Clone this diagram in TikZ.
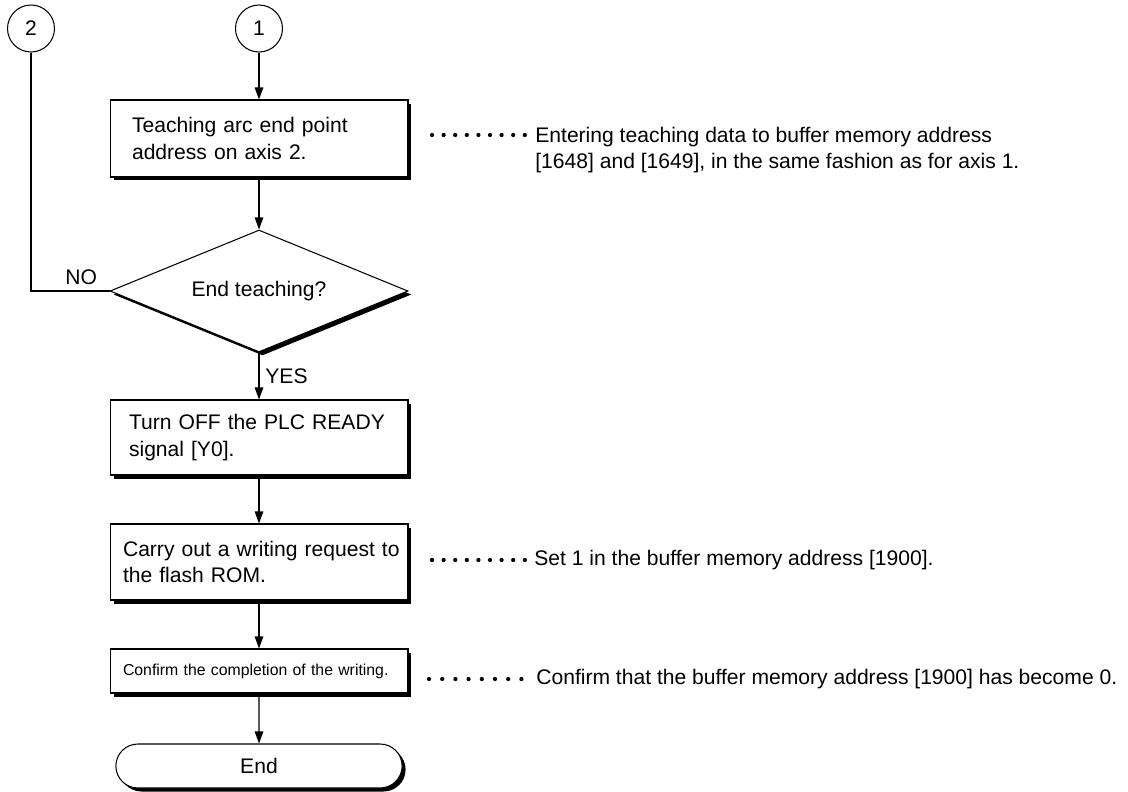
\documentclass[tikz,border=0pt]{standalone}
\usepackage{fontspec}
\setmainfont{Liberation Sans}
\usepackage{tikz}
\usetikzlibrary{
arrows.meta,
positioning,
shapes.geometric,
shapes.misc,
shadows
}
\newcommand{\flowfont}{\fontsize{12}{15}\selectfont}
\newcommand{\smallflowfont}{\fontsize{9}{11}\selectfont}

\tikzset{
  blackshadow/.style={drop shadow={shadow xshift=0.07cm, shadow yshift=-0.07cm, fill=black, opacity=1}},
  procbox/.style={draw, fill=white, line width=0.6pt, blackshadow, minimum width=5.96cm,
    minimum height=1.54cm, inner xsep=0.2cm, text width=5.56cm, align=left, font=\flowfont},
  decision/.style={diamond, draw, fill=white, line width=0.6pt, blackshadow, aspect=2.44,
    minimum width=5.96cm, minimum height=2.44cm, inner sep=0pt, font=\flowfont},
  terminal/.style={rounded rectangle, draw, fill=white, line width=0.6pt, blackshadow,
    minimum width=5.96cm, minimum height=0.88cm, font=\flowfont},
  pagelink/.style={circle, draw, line width=0.6pt, minimum size=0.94cm, inner sep=0pt, font=\flowfont},
  note/.style={align=left, inner sep=0pt, font=\flowfont},
  flow/.style={line width=0.6pt, -{Triangle[length=0.24cm, width=0.17cm]}},
  dotline/.style={line width=0.085cm, line cap=round, dash pattern=on 0pt off #1},
  dotline/.default=0.232cm
}

\begin{document}
\begin{tikzpicture}[x=0.02cm, y=-0.02cm]

\useasboundingbox (0,0) rectangle (1128,791);

% Off-page connectors
\node[pagelink] (two) at (31,28.5) {2};
\node[pagelink] (one) at (259,28.5) {1};

% Main column
\node[procbox, inner xsep=0.44cm, text width=5.08cm] (teach) at (259,138.5) {Teaching arc end point\\address on axis 2.};
\node[decision] (ask) at (259,291) {End teaching?};
\node[procbox, minimum height=1.5cm, inner xsep=0.38cm, text width=5.2cm] (plcoff) at (259,437.5) {Turn OFF the PLC READY\\signal [Y0].};
\node[procbox, minimum height=1.52cm, inner xsep=0.26cm, text width=5.44cm] (flashreq) at (259,562) {\mbox{Carry out a writing request to}\\the flash ROM.};
\node[procbox, minimum height=0.88cm, inner xsep=0.26cm, text width=5.44cm, font=\smallflowfont] (confirm) at (259,671) {Confirm the completion of the writing.};
\node[terminal] (finish) at (259,766) {End};

% Notes on the right
\node[note, anchor=north west] (noteone) at (535,127) {Entering teaching data to buffer memory address\\{}[1648] and [1649], in the same fashion as for axis 1.};
\node[note, anchor=west] (notetwo) at (534,560) {Set 1 in the buffer memory address [1900].};
\node[note, anchor=west] (notethree) at (536,679) {Confirm that the buffer memory address [1900] has become 0.};

% Dotted leaders
\draw[dotline] ([xshift=-2.06cm, yshift=-0.16cm]noteone.north west) -- ([xshift=-0.18cm, yshift=-0.16cm]noteone.north west);
\draw[dotline] ([xshift=-2.04cm]notetwo.west) -- ([xshift=-0.16cm]notetwo.west);
\draw[dotline=0.264cm] ([xshift=-2.14cm]notethree.west) -- ([xshift=-0.28cm]notethree.west);

% Flow lines
\draw[flow, line width=0.9pt] (one) -- (teach);
\draw[flow] (teach) -- (ask);
\draw[flow] (ask) -- node[right, font=\flowfont] (yes) {YES} (plcoff);
\draw[flow] (plcoff) -- (flashreq);
\draw[flow] (flashreq) -- (confirm);
\draw[flow] (confirm) -- (finish);
\draw[line width=0.6pt] (two) |- node[pos=0.82, above, font=\flowfont] (no) {NO} (ask);

\end{tikzpicture}
\end{document}
